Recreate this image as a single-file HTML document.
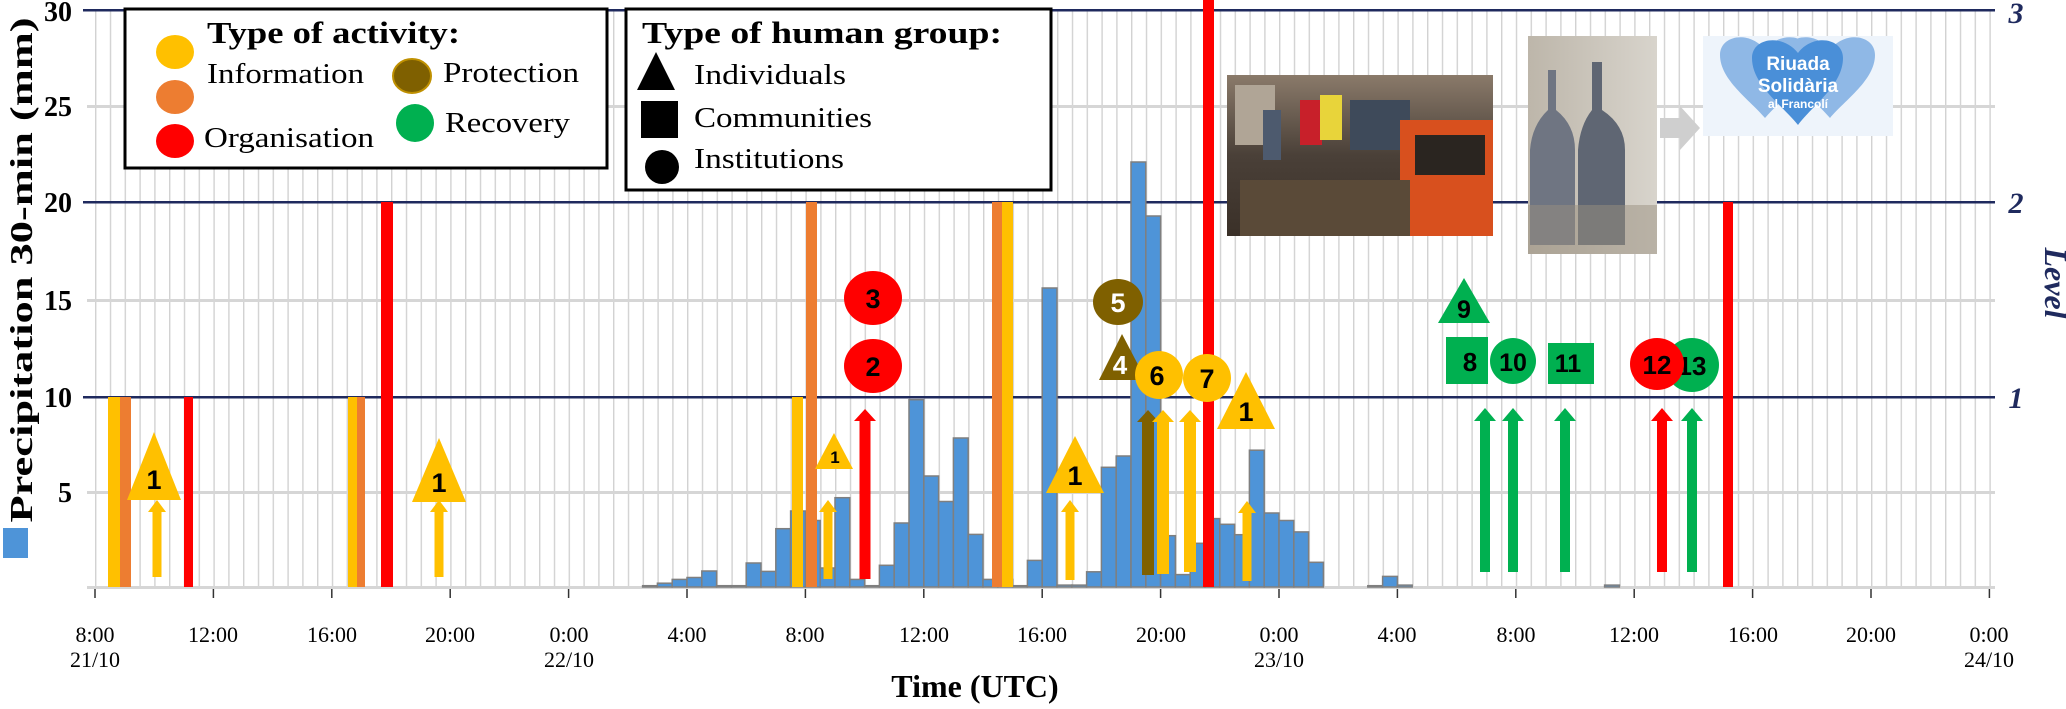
<!DOCTYPE html>
<html><head><meta charset="utf-8"><style>html,body{margin:0;padding:0;background:#fff}svg{display:block}</style></head>
<body>
<svg width="2066" height="709" viewBox="0 0 2066 709" xmlns="http://www.w3.org/2000/svg" font-family="Liberation Serif, serif">
<defs>
<pattern id="vg" x="95" y="0" width="14.8" height="709" patternUnits="userSpaceOnUse">
<rect x="-1.2" y="0" width="2.6" height="709" fill="#d2d2d2"/>
</pattern>
</defs>
<rect width="2066" height="709" fill="#fff"/>
<rect x="93" y="10" width="1900" height="577" fill="url(#vg)"/>
<g fill="#d6d6d6">
<rect x="87" y="105" width="1908" height="3"/>
<rect x="87" y="299" width="1908" height="3"/>
<rect x="87" y="491" width="1908" height="3"/>
<rect x="87" y="586" width="1908" height="3"/>
</g>
<g fill="#1f2a5e">
<rect x="83" y="9" width="1912" height="2.5"/>
<rect x="83" y="201" width="1912" height="2.5"/>
<rect x="83" y="396" width="1912" height="2.5"/>
</g>
<g stroke="#333" stroke-width="1.5">
<line x1="95" y1="589" x2="95" y2="598"/><line x1="213.4" y1="589" x2="213.4" y2="598"/><line x1="331.8" y1="589" x2="331.8" y2="598"/><line x1="450.2" y1="589" x2="450.2" y2="598"/><line x1="568.6" y1="589" x2="568.6" y2="598"/><line x1="687" y1="589" x2="687" y2="598"/><line x1="805.4" y1="589" x2="805.4" y2="598"/><line x1="923.8" y1="589" x2="923.8" y2="598"/><line x1="1042.2" y1="589" x2="1042.2" y2="598"/><line x1="1160.6" y1="589" x2="1160.6" y2="598"/><line x1="1279" y1="589" x2="1279" y2="598"/><line x1="1397.4" y1="589" x2="1397.4" y2="598"/><line x1="1515.8" y1="589" x2="1515.8" y2="598"/><line x1="1634.2" y1="589" x2="1634.2" y2="598"/><line x1="1752.6" y1="589" x2="1752.6" y2="598"/><line x1="1871" y1="589" x2="1871" y2="598"/><line x1="1989.4" y1="589" x2="1989.4" y2="598"/>
</g>
<g fill="#4e94d8" stroke="#7f7f7f" stroke-width="1.5">
<rect x="642.6" y="585.7" width="14.8" height="1.3"/>
<rect x="657.4" y="583.2" width="14.8" height="3.8"/>
<rect x="672.2" y="579.4" width="14.8" height="7.6"/>
<rect x="687" y="577.5" width="14.8" height="9.5"/>
<rect x="701.8" y="571" width="14.8" height="16"/>
<rect x="716.6" y="585.7" width="14.8" height="1.3"/>
<rect x="731.4" y="585.7" width="14.8" height="1.3"/>
<rect x="746.2" y="563" width="14.8" height="24"/>
<rect x="761" y="571.4" width="14.8" height="15.6"/>
<rect x="775.8" y="528.7" width="14.8" height="58.3"/>
<rect x="790.6" y="511" width="14.8" height="76"/>
<rect x="805.4" y="520.5" width="14.8" height="66.5"/>
<rect x="820.2" y="568" width="14.8" height="19"/>
<rect x="835" y="497.7" width="14.8" height="89.3"/>
<rect x="849.8" y="579.4" width="14.8" height="7.6"/>
<rect x="864.6" y="585.7" width="14.8" height="1.3"/>
<rect x="879.4" y="565.3" width="14.8" height="21.7"/>
<rect x="894.2" y="523" width="14.8" height="64"/>
<rect x="909" y="399.7" width="14.8" height="187.3"/>
<rect x="923.8" y="476" width="14.8" height="111"/>
<rect x="938.6" y="501.5" width="14.8" height="85.5"/>
<rect x="953.4" y="438" width="14.8" height="149"/>
<rect x="968.2" y="534.4" width="14.8" height="52.6"/>
<rect x="983" y="579.4" width="14.8" height="7.6"/>
<rect x="997.8" y="579.4" width="14.8" height="7.6"/>
<rect x="1012.6" y="585.7" width="14.8" height="1.3"/>
<rect x="1027.4" y="560.4" width="14.8" height="26.6"/>
<rect x="1042.2" y="288" width="14.8" height="299"/>
<rect x="1057" y="585.1" width="14.8" height="1.9"/>
<rect x="1071.8" y="585.1" width="14.8" height="1.9"/>
<rect x="1086.6" y="571.8" width="14.8" height="15.2"/>
<rect x="1101.4" y="467.3" width="14.8" height="119.7"/>
<rect x="1116.2" y="456" width="14.8" height="131"/>
<rect x="1131" y="162" width="14.8" height="425"/>
<rect x="1145.8" y="216" width="14.8" height="371"/>
<rect x="1160.6" y="535.7" width="14.8" height="51.3"/>
<rect x="1175.4" y="574.6" width="14.8" height="12.4"/>
<rect x="1190.2" y="543.3" width="14.8" height="43.7"/>
<rect x="1205" y="518.6" width="14.8" height="68.4"/>
<rect x="1219.8" y="524.3" width="14.8" height="62.7"/>
<rect x="1234.6" y="534.7" width="14.8" height="52.3"/>
<rect x="1249.4" y="450.2" width="14.8" height="136.8"/>
<rect x="1264.2" y="513" width="14.8" height="74"/>
<rect x="1279" y="520.5" width="14.8" height="66.5"/>
<rect x="1293.8" y="531.9" width="14.8" height="55.1"/>
<rect x="1308.6" y="562.3" width="14.8" height="24.7"/>
<rect x="1367.8" y="585.7" width="14.8" height="1.3"/>
<rect x="1382.6" y="576.4" width="14.8" height="10.6"/>
<rect x="1397.4" y="585.1" width="14.8" height="1.9"/>
<rect x="1604.6" y="585.1" width="14.8" height="1.9"/>
</g>
<rect x="108" y="397" width="12" height="190" fill="#ffc000"/>
<rect x="120" y="397" width="11" height="190" fill="#ed7d31"/>
<rect x="184" y="397" width="9" height="190" fill="#ff0000"/>
<rect x="348" y="397" width="9" height="190" fill="#ffc000"/>
<rect x="357" y="397" width="8" height="190" fill="#ed7d31"/>
<rect x="381" y="202" width="12" height="385" fill="#ff0000"/>
<rect x="792" y="397" width="11" height="190" fill="#ffc000"/>
<rect x="806" y="202" width="11" height="385" fill="#ed7d31"/>
<rect x="992" y="202" width="10" height="385" fill="#ed7d31"/>
<rect x="1002" y="202" width="11" height="385" fill="#ffc000"/>
<rect x="1203" y="0" width="11" height="587" fill="#ff0000"/>
<rect x="1723" y="202" width="10" height="385" fill="#ff0000"/>
<g>
<path d="M152.5,577 L152.5,512 L148,512 L157,500 L166,512 L161.5,512 L161.5,577 Z" fill="#ffc000"/>
<path d="M434.5,577 L434.5,512 L430,512 L439,500 L448,512 L443.5,512 L443.5,577 Z" fill="#ffc000"/>
<path d="M823.5,579 L823.5,512 L819,512 L828,500 L837,512 L832.5,512 L832.5,579 Z" fill="#ffc000"/>
<path d="M859.5,579 L859.5,421 L854,421 L865,409 L876,421 L870.5,421 L870.5,579 Z" fill="#ff0000"/>
<path d="M1065.5,580 L1065.5,512 L1061,512 L1070,500 L1079,512 L1074.5,512 L1074.5,580 Z" fill="#ffc000"/>
<path d="M1142,575 L1142,422 L1137,422 L1148,410 L1159,422 L1154,422 L1154,575 Z" fill="#7f6000"/>
<path d="M1157,574 L1157,422 L1152,422 L1163,410 L1174,422 L1169,422 L1169,574 Z" fill="#ffc000"/>
<path d="M1184,572 L1184,422 L1179,422 L1190,410 L1201,422 L1196,422 L1196,572 Z" fill="#ffc000"/>
<path d="M1242.5,581 L1242.5,513 L1238,513 L1247,501 L1256,513 L1251.5,513 L1251.5,581 Z" fill="#ffc000"/>
<path d="M1480,572 L1480,421 L1474,421 L1485,408 L1496,421 L1490,421 L1490,572 Z" fill="#00b050"/>
<path d="M1508,572 L1508,421 L1502,421 L1513,408 L1524,421 L1518,421 L1518,572 Z" fill="#00b050"/>
<path d="M1560,572 L1560,421 L1554,421 L1565,408 L1576,421 L1570,421 L1570,572 Z" fill="#00b050"/>
<path d="M1657,572 L1657,421 L1651,421 L1662,408 L1673,421 L1667,421 L1667,572 Z" fill="#ff0000"/>
<path d="M1687,572 L1687,421 L1681,421 L1692,408 L1703,421 L1697,421 L1697,572 Z" fill="#00b050"/>
</g>
<g font-family="Liberation Sans, sans-serif" font-weight="bold" text-anchor="middle">
<polygon points="154,432 127,500 181,500" fill="#ffc000"/><text x="154" y="489" font-size="27">1</text>
<polygon points="439,438 412,502 466,502" fill="#ffc000"/><text x="439" y="492" font-size="27">1</text>
<polygon points="834,433 815,469 853,469" fill="#ffc000"/><text x="835" y="463" font-size="17">1</text>
<ellipse cx="873" cy="298" rx="29" ry="27" fill="#ff0000"/><text x="873" y="308" font-size="27">3</text>
<ellipse cx="873" cy="366" rx="29" ry="27" fill="#ff0000"/><text x="873" y="376" font-size="27">2</text>
<polygon points="1075,436 1046,493 1104,493" fill="#ffc000"/><text x="1075" y="485" font-size="27">1</text>
<ellipse cx="1118" cy="302" rx="25" ry="23" fill="#7f6000"/><text x="1118" y="312" font-size="27" fill="#fff">5</text>
<polygon points="1122,334 1099,380 1146,380" fill="#7f6000"/><text x="1120" y="374" font-size="26" fill="#fff">4</text>
<circle cx="1159" cy="375" r="24" fill="#ffc000"/><text x="1157" y="385" font-size="27">6</text>
<circle cx="1207" cy="378" r="24" fill="#ffc000"/><text x="1207" y="388" font-size="27">7</text>
<polygon points="1246,372 1217,429 1275,429" fill="#ffc000"/><text x="1246" y="421" font-size="27">1</text>
<polygon points="1464,278 1438,323 1490,323" fill="#00b050"/><text x="1464" y="318" font-size="25">9</text>
<rect x="1446" y="337" width="42" height="47" fill="#00b050"/><text x="1470" y="371" font-size="26">8</text>
<ellipse cx="1513" cy="361" rx="23" ry="23" fill="#00b050"/><text x="1513" y="371" font-size="25">10</text>
<rect x="1548" y="343" width="46" height="41" fill="#00b050"/><text x="1568" y="372" font-size="25">11</text>
<ellipse cx="1692" cy="365" rx="27" ry="27" fill="#00b050"/><text x="1692" y="375" font-size="26">13</text>
<ellipse cx="1657" cy="364" rx="27" ry="26" fill="#ff0000"/><text x="1657" y="374" font-size="26">12</text>
</g>
<rect x="125" y="9" width="482" height="159" fill="#fff" stroke="#000" stroke-width="3"/>
<text x="207" y="43" font-size="31" font-weight="bold" textLength="253" lengthAdjust="spacingAndGlyphs">Type of activity:</text>
<ellipse cx="175" cy="52" rx="19" ry="17" fill="#ffc000"/>
<ellipse cx="175" cy="97" rx="19" ry="17" fill="#ed7d31"/>
<ellipse cx="175" cy="141" rx="19" ry="17" fill="#ff0000"/>
<ellipse cx="412" cy="76" rx="19" ry="17" fill="#7f6000" stroke="#bf9000" stroke-width="2"/>
<ellipse cx="415" cy="123" rx="19" ry="19" fill="#00b050"/>
<g font-size="29">
<text x="207" y="83" textLength="157" lengthAdjust="spacingAndGlyphs">Information</text>
<text x="204" y="147" textLength="170" lengthAdjust="spacingAndGlyphs">Organisation</text>
<text x="443" y="82" textLength="136" lengthAdjust="spacingAndGlyphs">Protection</text>
<text x="445" y="132" textLength="125" lengthAdjust="spacingAndGlyphs">Recovery</text>
</g>
<rect x="626" y="9" width="425" height="181" fill="#fff" stroke="#000" stroke-width="3"/>
<text x="642" y="43" font-size="31" font-weight="bold" textLength="360" lengthAdjust="spacingAndGlyphs">Type of human group:</text>
<polygon points="656,52 637,90 675,90" fill="#000"/>
<rect x="641" y="101" width="37" height="37" fill="#000"/>
<circle cx="662" cy="167" r="17" fill="#000"/>
<g font-size="29">
<text x="694" y="84" textLength="152" lengthAdjust="spacingAndGlyphs">Individuals</text>
<text x="694" y="127" textLength="178" lengthAdjust="spacingAndGlyphs">Communities</text>
<text x="694" y="168" textLength="150" lengthAdjust="spacingAndGlyphs">Institutions</text>
</g>
<defs>
<linearGradient id="p1" x1="0" y1="0" x2="0" y2="1"><stop offset="0" stop-color="#8a7a6a"/><stop offset="0.5" stop-color="#4a4038"/><stop offset="1" stop-color="#3a3028"/></linearGradient>
<linearGradient id="p2" x1="0" y1="0" x2="1" y2="0"><stop offset="0" stop-color="#bdb6aa"/><stop offset="1" stop-color="#d8d4cc"/></linearGradient>
</defs>
<rect x="1227" y="75" width="266" height="161" fill="url(#p1)"/>
<rect x="1235" y="85" width="40" height="60" fill="#b0a596"/>
<rect x="1263" y="110" width="18" height="50" fill="#4d5a6e"/>
<rect x="1300" y="100" width="22" height="45" fill="#c8202a"/>
<rect x="1320" y="95" width="22" height="45" fill="#e8d43a"/>
<rect x="1350" y="100" width="60" height="50" fill="#3e4a5a"/>
<rect x="1400" y="120" width="93" height="116" fill="#d8501e"/>
<rect x="1415" y="135" width="70" height="40" fill="#2a2520"/>
<rect x="1240" y="180" width="170" height="56" fill="#5a4a38"/>
<rect x="1528" y="36" width="129" height="218" fill="url(#p2)"/>
<path d="M1548,70 L1556,70 L1556,110 Q1575,125 1575,150 L1575,245 L1530,245 L1530,150 Q1532,125 1548,110 Z" fill="#6f7582"/>
<path d="M1592,62 L1602,62 L1602,110 Q1625,125 1625,150 L1625,245 L1578,245 L1578,150 Q1580,125 1592,110 Z" fill="#5f6673"/>
<rect x="1528" y="205" width="129" height="49" fill="#9a8f80" opacity="0.5"/>
<polygon points="1660,118 1680,118 1680,106 1700,128 1680,150 1680,138 1660,138" fill="#cfcfcf"/>
<rect x="1703" y="36" width="190" height="100" fill="#eef4fb"/>
<path d="M1720,55 C1720,35 1750,30 1765,50 C1780,30 1810,35 1810,55 C1810,80 1780,100 1765,118 C1750,100 1720,80 1720,55 Z" fill="#8fb8e6"/>
<path d="M1785,55 C1785,35 1815,30 1830,50 C1845,30 1875,35 1875,55 C1875,80 1845,100 1830,118 C1815,100 1785,80 1785,55 Z" fill="#8fb8e6"/>
<path d="M1752,58 C1752,38 1782,33 1798,53 C1813,33 1843,38 1843,58 C1843,85 1813,105 1798,125 C1782,105 1752,85 1752,58 Z" fill="#4a8fd8"/>
<g font-family="Liberation Sans, sans-serif" font-weight="bold" fill="#fff" text-anchor="middle">
<text x="1798" y="70" font-size="19">Riuada</text>
<text x="1798" y="92" font-size="19">Solidària</text>
<text x="1798" y="108" font-size="12">al Francolí</text>
</g>
<g font-size="28" font-weight="bold" text-anchor="end">
<text x="72" y="21">30</text>
<text x="72" y="116">25</text>
<text x="72" y="212">20</text>
<text x="72" y="310">15</text>
<text x="72" y="407">10</text>
<text x="72" y="502">5</text>
</g>
<text transform="translate(32,270) rotate(-90)" text-anchor="middle" font-size="32" font-weight="bold" textLength="505" lengthAdjust="spacingAndGlyphs">Precipitation 30-min (mm)</text>
<rect x="3" y="528" width="25" height="30" fill="#4e94d8"/>
<g font-size="30" font-weight="bold" font-style="italic" fill="#1f2a5e" text-anchor="middle">
<text x="2016" y="23">3</text>
<text x="2016" y="213">2</text>
<text x="2016" y="408">1</text>
<text transform="translate(2045,283) rotate(90)" font-size="32">Level</text>
</g>
<g font-size="22" text-anchor="middle">
<text x="95" y="642">8:00</text><text x="213" y="642">12:00</text><text x="332" y="642">16:00</text><text x="450" y="642">20:00</text><text x="569" y="642">0:00</text><text x="687" y="642">4:00</text><text x="805" y="642">8:00</text><text x="924" y="642">12:00</text><text x="1042" y="642">16:00</text><text x="1161" y="642">20:00</text><text x="1279" y="642">0:00</text><text x="1397" y="642">4:00</text><text x="1516" y="642">8:00</text><text x="1634" y="642">12:00</text><text x="1753" y="642">16:00</text><text x="1871" y="642">20:00</text><text x="1989" y="642">0:00</text>
<text x="95" y="667">21/10</text><text x="569" y="667">22/10</text><text x="1279" y="667">23/10</text><text x="1989" y="667">24/10</text>
</g>
<text x="975" y="697" font-size="32" font-weight="bold" text-anchor="middle">Time (UTC)</text>
</svg>
</body></html>
